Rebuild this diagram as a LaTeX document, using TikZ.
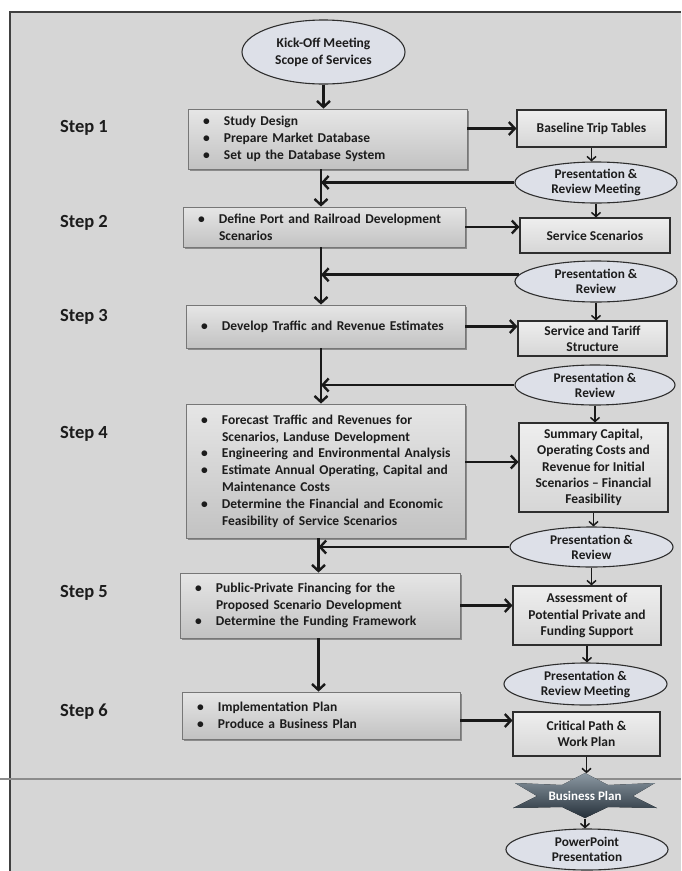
\documentclass[tikz,border=0pt]{standalone}
\usepackage{fontspec}
\setmainfont{Carlito}
\usetikzlibrary{arrows.meta,shadows,shapes.geometric}
\definecolor{bg}{HTML}{D6D6D6}
\definecolor{lbtop}{HTML}{E6E6E6}
\definecolor{lbmid}{HTML}{CACACA}
\definecolor{lbbot}{HTML}{C2C2C2}
\definecolor{lbord}{HTML}{777777}
\definecolor{rbtop}{HTML}{EEEEEE}
\definecolor{rbbot}{HTML}{D6D6D6}
\definecolor{rbord}{HTML}{2E2E2E}
\definecolor{ellfill}{HTML}{DDE0E8}
\definecolor{ink}{HTML}{1C1C1C}
\definecolor{startop}{HTML}{8C99A3}
\definecolor{starbot}{HTML}{25303A}
\newcommand\boxfont{\fontsize{13.5}{16.8}\selectfont\bfseries}
\newcommand\rfont{\fontsize{13.5}{16.3}\selectfont\bfseries}
\newcommand\efont{\fontsize{13.3}{15}\selectfont\bfseries}
\newcommand\bl[1]{\mbox{\makebox[21pt][l]{\textbullet}#1}}
\newcommand\ct[1]{\mbox{\hspace*{21pt}#1}}
\tikzset{
  leftbox/.style={rectangle, draw=lbord, line width=0.8pt, top color=lbtop, middle color=lbmid, bottom color=lbbot,
    drop shadow={shadow xshift=2pt, shadow yshift=-2pt, fill=black, opacity=0.35},
    align=left, font=\boxfont, text=ink, inner xsep=15pt, inner ysep=0pt},
  rightbox/.style={rectangle, draw=rbord, line width=1.1pt, top color=rbtop, bottom color=rbbot,
    align=center, font=\rfont, text=ink, inner sep=0pt},
  ellbox/.style={ellipse, draw=rbord, line width=1.1pt, fill=ellfill, align=center, font=\efont, text=ink, inner sep=0pt},
  steplabel/.style={font=\fontsize{18.5}{20}\selectfont\bfseries, text=ink, inner sep=0pt},
  mainarrow/.style={draw=black!90, line width=2.6pt, -{Straight Barb[length=6pt,width=13pt,line width=2.4pt]}},
  smallarrow/.style={draw=black!90, line width=1.5pt, -{Straight Barb[length=4pt,width=9pt,line width=1.5pt]}}
}
\begin{document}
\begin{tikzpicture}[x=1pt,y=-1pt]
\useasboundingbox (0,0) rectangle (681,871);
\fill[white] (0,0) rectangle (681,871);
\fill[bg] (10,12) rectangle (681,871);
\draw[black!75, line width=1.6pt] (10,871) -- (10,12) -- (681,12);
\draw[black!45, line width=1.4pt] (0,779) -- (681,779);

\coordinate (mx) at (321,0);
\coordinate (mxb) at (318.5,0);

% step labels
\node[steplabel] (l1) at (84,128) {Step 1};
\node[steplabel] (l2) at (84,223) {Step 2};
\node[steplabel] (l3) at (84,317) {Step 3};
\node[steplabel] (l4) at (84,434) {Step 4};
\node[steplabel] (l5) at (84,593) {Step 5};
\node[steplabel] (l6) at (84,712) {Step 6};

% kick-off
\node[ellbox, font=\fontsize{13.5}{17}\selectfont\bfseries, minimum width=163pt, minimum height=64pt] (kick) at (323.5,52) {Kick-Off Meeting\\Scope of Services};

% left boxes
\node[leftbox, text width=249pt, minimum height=60pt] (s1) at (327.5,139)
  {\bl{Study Design}\\\bl{Prepare Market Database}\\\bl{Set up the Database System}};
\node[leftbox, text width=252pt, minimum height=40pt] (s2) at (324,227)
  {\bl{Define Port and Railroad Development}\\\ct{Scenarios}};
\node[leftbox, text width=249pt, minimum height=43pt] (s3) at (325.5,326.5)
  {\bl{Develop Traffic and Revenue Estimates}};
\node[leftbox, text width=249pt, minimum height=134pt] (s4) at (325.5,471)
  {\bl{Forecast Traffic and Revenues for}\\\ct{Scenarios, Landuse Development}\\\bl{Engineering and Environmental Analysis}\\\bl{Estimate Annual Operating, Capital and}\\\ct{Maintenance Costs}\\\bl{Determine the Financial and Economic}\\\ct{Feasibility of Service Scenarios}\\[4pt]};
\node[leftbox, text width=250pt, minimum height=65pt] (s5) at (320,605.5)
  {\bl{Public-Private Financing for the}\\\ct{Proposed Scenario Development}\\\bl{Determine the Funding Framework}};
\node[leftbox, text width=248pt, minimum height=47pt] (s6) at (321,715.5)
  {\bl{Implementation Plan}\\\bl{Produce a Business Plan}};

% right boxes
\node[rightbox, minimum width=149pt, minimum height=37pt] (bl) at (591.5,128.5) {Baseline Trip Tables};
\node[rightbox, minimum width=150pt, minimum height=35pt] (ss) at (595,235.5) {Service Scenarios};
\node[rightbox, minimum width=149pt, minimum height=35pt] (st) at (592.5,338.5) {Service and Tariff\\Structure};
\node[rightbox, minimum width=149pt, minimum height=89pt] (sum) at (593.5,467.5) {Summary Capital,\\Operating Costs and\\Revenue for Initial\\Scenarios -- Financial\\Feasibility};
\node[rightbox, minimum width=148pt, minimum height=59pt] (as) at (587,615.5) {Assessment of\\Potential Private and\\Funding Support};
\node[rightbox, minimum width=147pt, minimum height=44pt] (cp) at (586.5,734) {Critical Path \&\\Work Plan};

% ellipses
\node[ellbox, minimum width=162pt, minimum height=41pt] (e1) at (596,182.5) {Presentation \&\\Review Meeting};
\node[ellbox, minimum width=162pt, minimum height=41pt] (e2) at (596,281.5) {Presentation \&\\Review};
\node[ellbox, minimum width=160pt, minimum height=40pt] (e3) at (595,385) {Presentation \&\\Review};
\node[ellbox, minimum width=163pt, minimum height=40pt] (e4) at (591.5,547) {Presentation \&\\Review};
\node[ellbox, minimum width=163pt, minimum height=42pt] (e5) at (585.5,684) {Presentation \&\\Review Meeting};
\node[ellbox, minimum width=162pt, minimum height=41pt] (pp) at (587,849.5) {PowerPoint\\Presentation};

% business plan star
\fill[top color=startop, bottom color=starbot, shift={(585,796)}]
  (0,-23) -- (23,-11) -- (70,-13) -- (48,0) -- (72,12) -- (23,11) -- (0,22)
  -- (-23,11) -- (-72,12) -- (-48,0) -- (-70,-13) -- (-23,-11) -- cycle;
\node[font=\fontsize{13}{15}\selectfont\bfseries, text=white, minimum width=144pt, minimum height=45pt, inner sep=0pt] (bp) at (585,796) {Business Plan};

% main column arrows
\draw[mainarrow] (kick.south) -- (kick.south |- s1.north);
\draw[mainarrow] (s1.south -| mx) -- (s2.north -| mx);
\draw[mainarrow] (s2.south -| mx) -- (s3.north -| mx);
\draw[mainarrow] (s3.south -| mx) -- (s4.north -| mx);
\draw[mainarrow] (s4.south -| mxb) -- (s5.north -| mxb);
\draw[mainarrow] (s5.south -| mxb) -- (s6.north -| mxb);

% ellipses back to main column
\draw[mainarrow] (e1.west) -- (e1.west -| mx);
\draw[mainarrow] (e2.175) -- (e2.175 -| mx);
\draw[mainarrow] (e3.west) -- (e3.west -| mx);
\draw[mainarrow] (e4.west) -- (e4.west -| mxb);

% step boxes to right column
\draw[mainarrow] (s1.east |- bl.west) -- (bl.west);
\draw[mainarrow] (s2.east) -- (s2.east -| ss.west);
\draw[mainarrow] (s3.east) -- (s3.east -| st.west);
\draw[mainarrow] ([yshift=9pt]s4.east) -- ([yshift=9pt]s4.east -| sum.west);
\draw[mainarrow] (s5.east) -- (s5.east -| as.west);
\draw[mainarrow] ([yshift=-5pt]s6.east) -- ([yshift=-5pt]s6.east -| cp.west);

% right column arrows
\draw[smallarrow] (bl.south) -- (bl.south |- e1.north);
\draw[smallarrow] (e1.south) -- (e1.south |- ss.north);
\draw[smallarrow] (e2.south) -- (e2.south |- st.north);
\draw[smallarrow] (e3.south) -- (e3.south |- sum.north);
\draw[smallarrow] (sum.south) -- (sum.south |- e4.north);
\draw[smallarrow] (e4.south) -- (e4.south |- as.north);
\draw[smallarrow] (as.south) -- (as.south |- e5.north);
\draw[smallarrow] (cp.south) -- (cp.south |- bp.north);
\draw[smallarrow] (bp.south) -- (bp.south |- pp.north);
\end{tikzpicture}
\end{document}
